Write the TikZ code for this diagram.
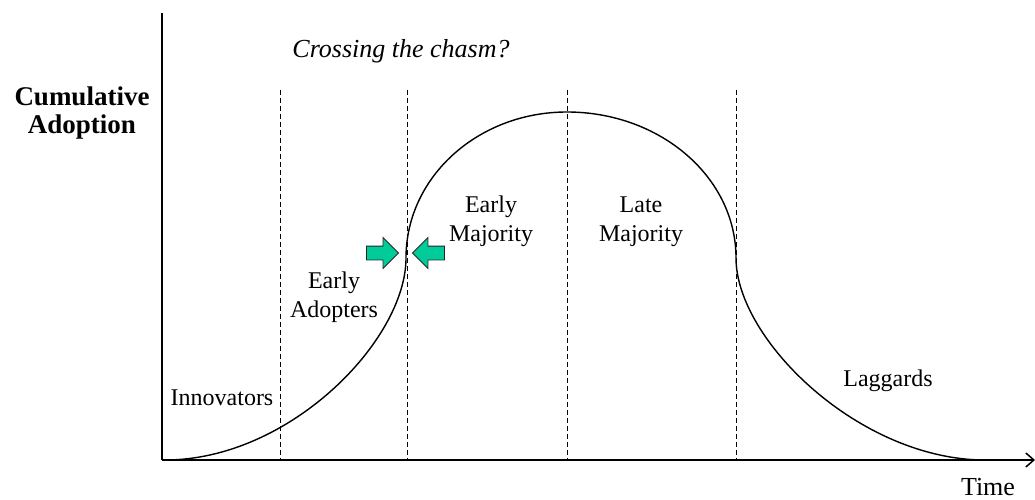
\documentclass[tikz,border=0pt]{standalone}
\usepackage{fontspec}
\setmainfont{Liberation Serif}
\usetikzlibrary{positioning,shapes.arrows,arrows.meta}
\definecolor{chasmgreen}{RGB}{0,204,153}

\begin{document}
\begin{tikzpicture}[
    x=1pt, y=-1pt,
    axis/.style={line width=2.5pt, draw=black},
    divider/.style={dash pattern=on 5pt off 3pt, line width=1pt},
    curve/.style={line width=1.4pt},
    lbl/.style={font=\fontsize{24}{29}\selectfont, align=center, inner sep=0pt, anchor=base},
    push/.style={single arrow, fill=chasmgreen, draw=black!85, line width=0.8pt, minimum height=32pt, single arrow head extend=8.5pt, inner sep=0pt, inner ysep=6.5pt},
]
\useasboundingbox (0,0) rectangle (1035,500);

% axes
\coordinate (ytop)   at (162,13);
\coordinate (origin) at (162,460);
\coordinate (xend)   at (1035,460);
\draw[axis] (ytop) -- (origin);
\draw[axis, -{Straight Barb[length=8pt, width=14pt, line width=1.5pt]}] (origin) -- (xend);

% segment boundaries
\foreach \name/\xx in {inno/280, adopt/407, early/567, late/736} {
  \coordinate (\name top) at (\xx,90);
  \coordinate (\name bot) at (\xx,460);
  \draw[divider] (\name top) -- (\name bot);
}

% adoption curve
\coordinate (c0) at (165,460);
\coordinate (c1) at (406,258);
\coordinate (c2) at (567,112);
\coordinate (c3) at (736,258);
\coordinate (c4) at (985,460);
\draw[curve] (c0) .. controls (290,460) and (406,340) .. (c1)
  .. controls (406,177) and (478,112) .. (c2)
  .. controls (660,112) and (736,177) .. (c3)
  .. controls (736,340) and (860,460) .. (c4);

% chasm arrows
\node[push] (pushR) at (379,253) {};
\node[push, shape border rotate=180] (pushL) at (432,253) {};

% labels (base = last line)
\node[lbl, font=\fontsize{26}{30}\selectfont\itshape] (chasm) at (401,58) {Crossing the chasm?};
\node[lbl, font=\fontsize{27}{28}\selectfont\bfseries] (ylabel) at (82,133) {Cumulative\\Adoption};
\node[lbl] (innov) at (222,405) {Innovators};
\node[lbl] (adopters) at (334,317) {Early\\Adopters};
\node[lbl] (earlymaj) at (491,241) {Early\\Majority};
\node[lbl] (latemaj) at (641,241) {Late\\Majority};
\node[lbl] (lagg) at (888,386) {Laggards};
\node[lbl, font=\fontsize{26}{30}\selectfont] (time) at (988,495) {Time};
\end{tikzpicture}
\end{document}
